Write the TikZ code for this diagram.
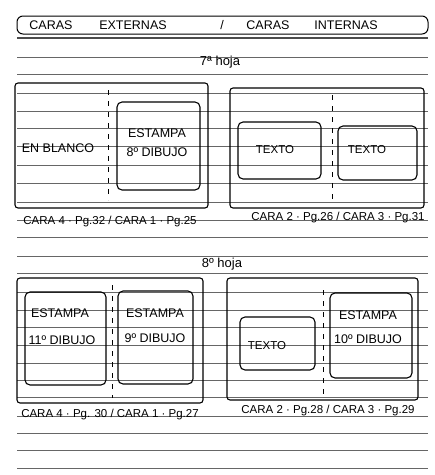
\documentclass[tikz,border=0pt]{standalone}
\usepackage{fontspec}
\setmainfont{Liberation Sans}
\usepackage{tikz}

\begin{document}
\begin{tikzpicture}[x=1pt, y=-1pt, every node/.style={inner sep=0pt, font=\fontsize{12.5}{14}\selectfont},
		sheet/.style={draw, line width=1.1pt, rounded corners=3pt},
		panel/.style={draw, line width=1.1pt, rounded corners=5pt},
		fold/.style={line width=1pt, dash pattern=on 5pt off 6pt},
		rule/.style={black!60, line width=0.6pt},
		caption/.style={font=\fontsize{11.5}{13}\selectfont},
		heading/.style={font=\fontsize{12.5}{14}\selectfont},
		small/.style={font=\fontsize{11.5}{13}\selectfont}]
	\useasboundingbox (0,0) rectangle (435,475);
	% ruled paper
	\foreach \y in {38,57,74,93,111,128,146,165,183,202,220,237,256,273,292,310,327,345,363,380,397,416,433,450,468}
		\draw[rule] (17,\y) -- (428,\y);
	\draw[black!70, line width=1.2pt] (17,38) -- (428,38);
	% title
	\node (title) at (222.5,25) [draw, line width=1pt, rounded corners=6pt, minimum width=411, minimum height=18] {};
	\node (extA) at (51,25) [heading] {CARAS};
	\node (extB) at (133,25) [heading] {EXTERNAS};
	\node (slash) at (222,25) [heading] {/};
	\node (intA) at (268,25) [heading] {CARAS};
	\node (intB) at (346,25) [heading] {INTERNAS};

	% 7a hoja
	\node (hojaSiete) at (220,62) [font=\fontsize{13}{14}\selectfont] {7ª hoja};
	\node (extSiete) at (111.5,145.5) [sheet, minimum width=193, minimum height=125] {};
	\draw[fold] (108,90) -- (108,200);
	\node (blanco) at (58,148) {EN BLANCO};
	\node (octavo) at (158.5,146) [panel, minimum width=83, minimum height=88] {};
	\node (octavoA) at (157,133) {ESTAMPA};
	\node (octavoB) at (157,152) {8º DIBUJO};
	\node (capExtSiete) at (110,222) [caption] {CARA 4 · Pg.32 / CARA 1 · Pg.25};

	\node (intSiete) at (327,148) [sheet, minimum width=194, minimum height=120] {};
	\draw[fold] (332,95) -- (332,200);
	\node (textoA) at (279.5,150.5) [panel, minimum width=83, minimum height=57] {};
	\node at (275,150) [small] {TEXTO};
	\node (textoB) at (377.5,153) [panel, minimum width=79, minimum height=54] {};
	\node at (367,150) [small] {TEXTO};
	\node (capIntSiete) at (338,218) [caption] {CARA 2 · Pg.26 / CARA 3 · Pg.31};

	% 8a hoja
	\node (hojaOcho) at (222,264) [font=\fontsize{13}{14}\selectfont] {8º hoja};
	\node (extOcho) at (110,340.5) [sheet, minimum width=186, minimum height=125] {};
	\draw[fold] (112,285) -- (112,398);
	\node (undecimo) at (65.5,338.5) [panel, minimum width=81, minimum height=93] {};
	\node (undecimoA) at (60,313) {ESTAMPA};
	\node (undecimoB) at (62,340) {11º DIBUJO};
	\node (noveno) at (155.5,337.5) [panel, minimum width=75, minimum height=93] {};
	\node (novenoA) at (155,313) {ESTAMPA};
	\node (novenoB) at (155,338) {9º DIBUJO};
	\node (capExtOcho) at (110,415) [caption] {CARA 4 · Pg. 30 / CARA 1 · Pg.27};

	\node (intOcho) at (322.5,339) [sheet, minimum width=191, minimum height=122] {};
	\draw[fold] (323,290) -- (323,395);
	\node (textoC) at (277.5,343.5) [panel, minimum width=75, minimum height=53] {};
	\node at (267,346) [small] {TEXTO};
	\node (decimo) at (371,335.5) [panel, minimum width=82, minimum height=85] {};
	\node (decimoA) at (368,315) {ESTAMPA};
	\node (decimoB) at (368,339) {10º DIBUJO};
	\node (capIntOcho) at (328,411) [caption] {CARA 2 · Pg.28 / CARA 3 · Pg.29};
\end{tikzpicture}
\end{document}
